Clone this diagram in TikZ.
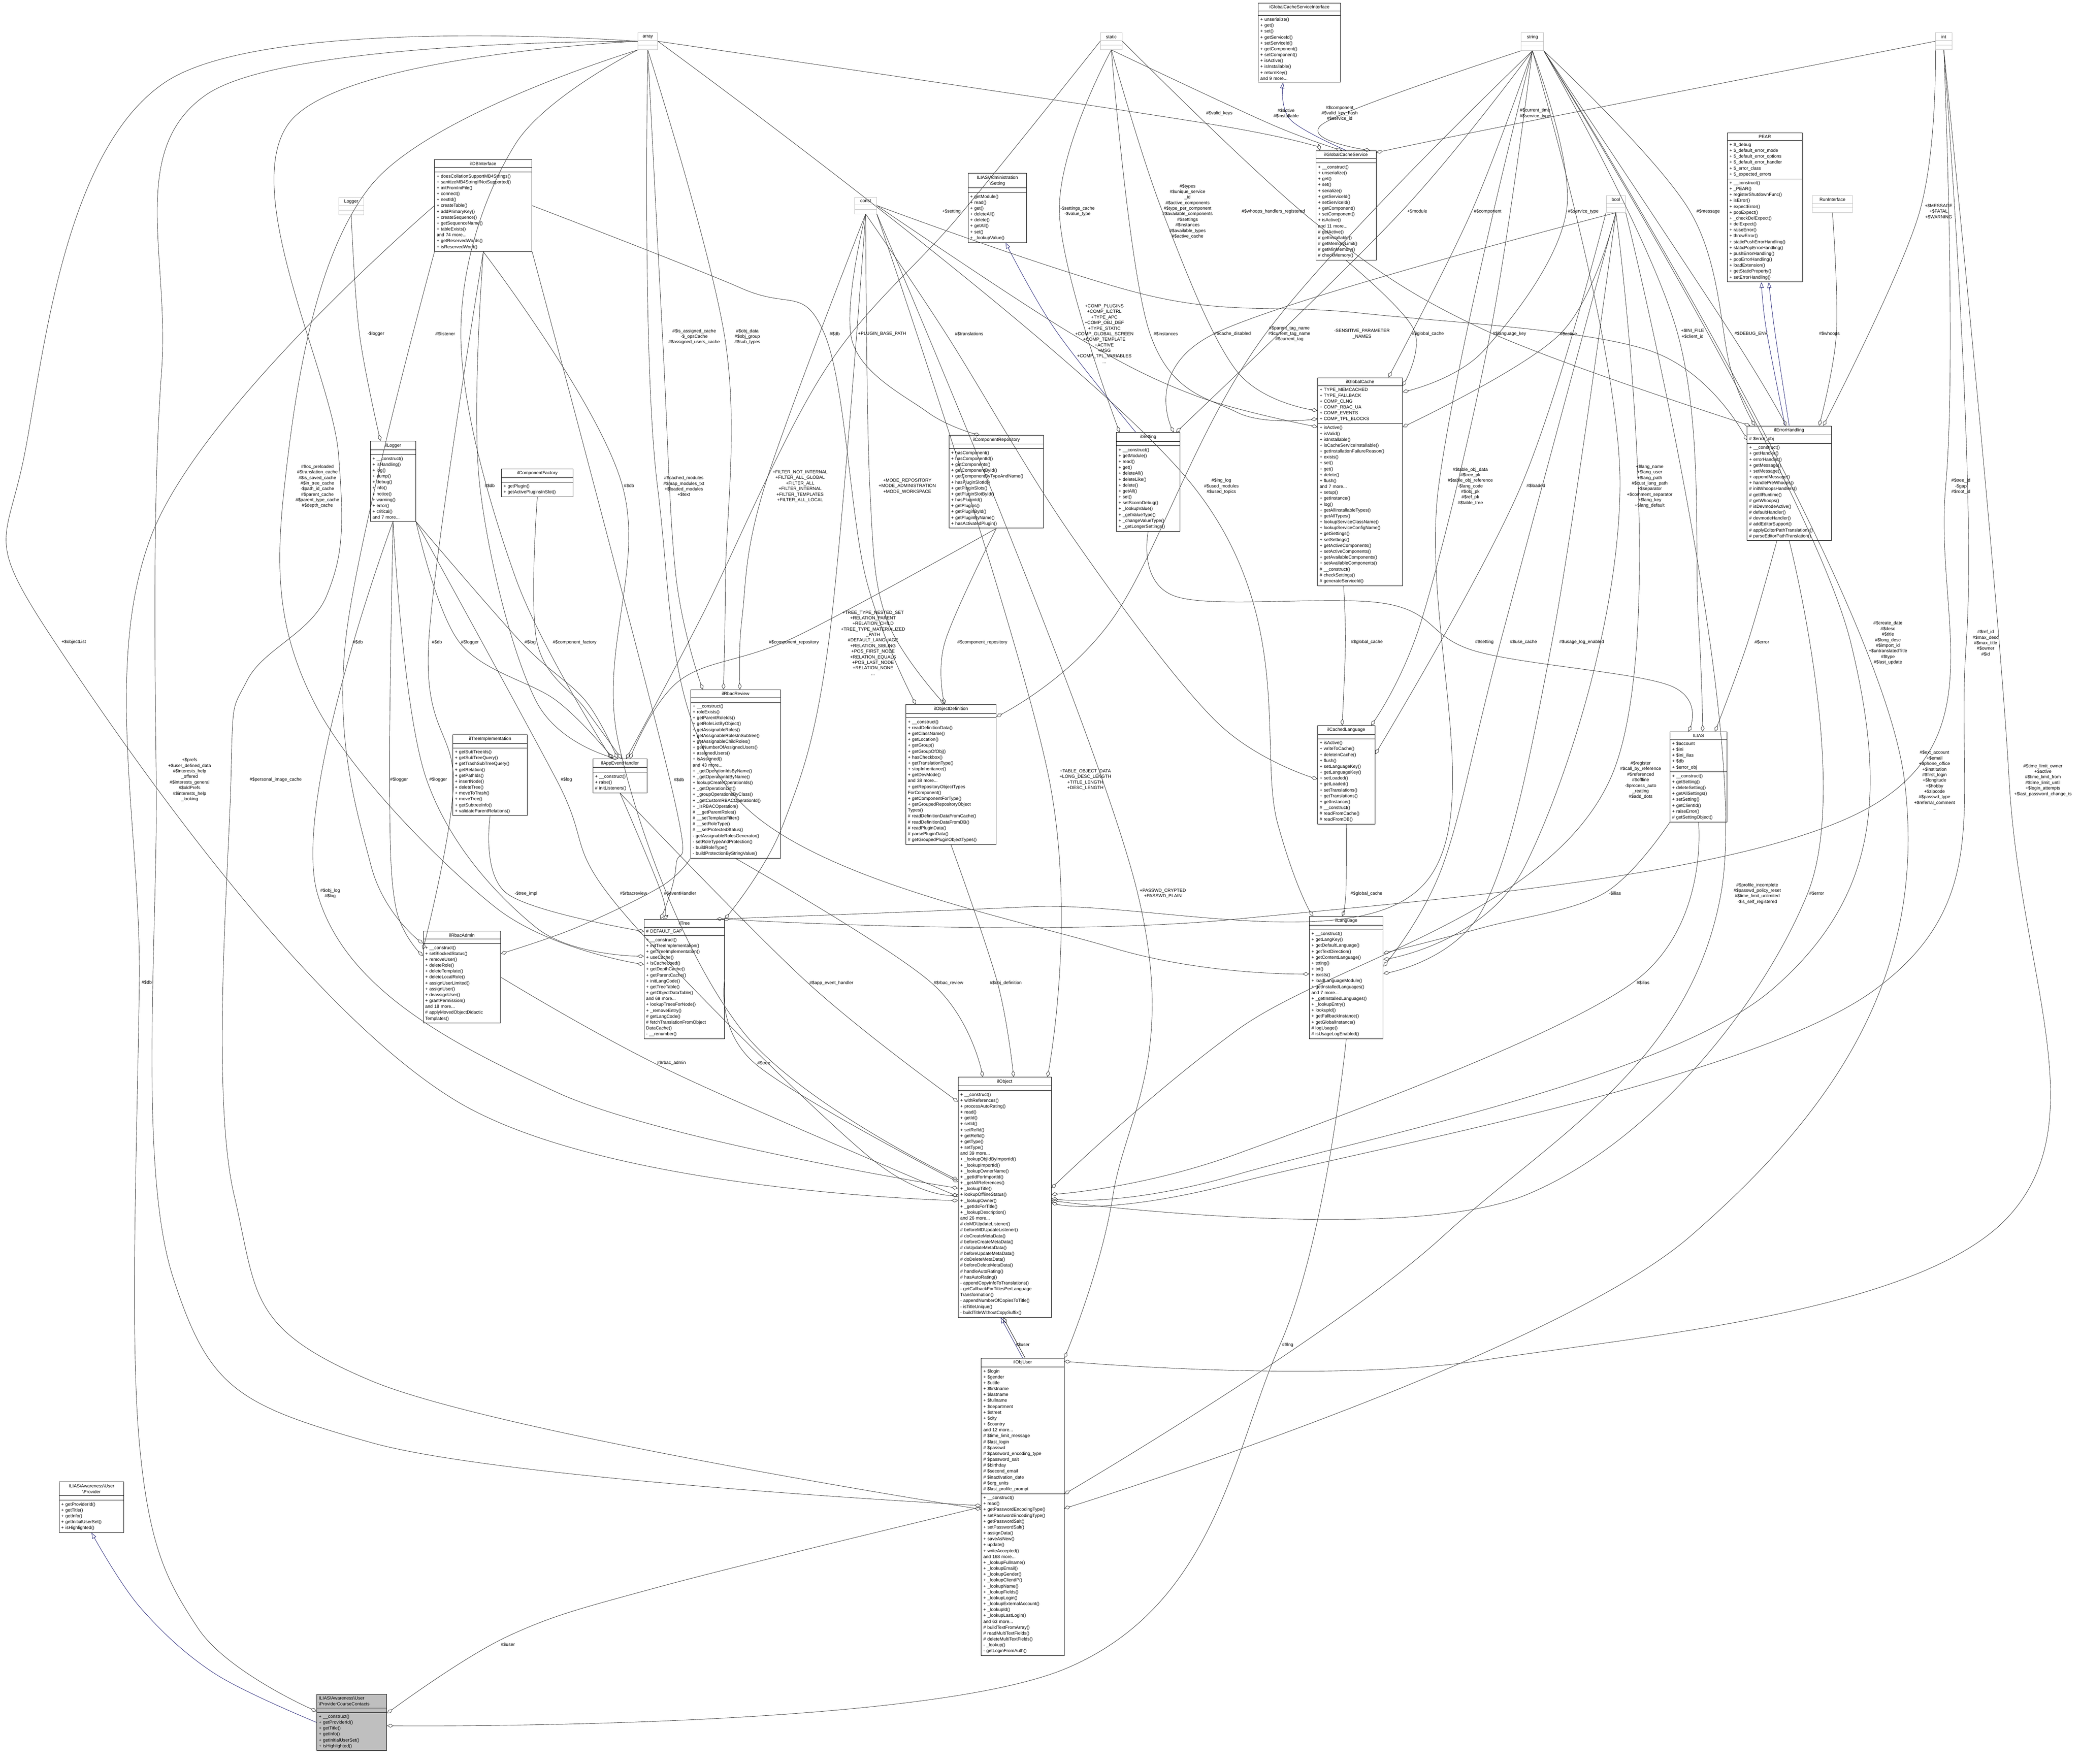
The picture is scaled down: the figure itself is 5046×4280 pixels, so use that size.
\documentclass[tikz,border=0pt]{standalone}
\usepackage{fontspec}
\setmainfont{Liberation Sans}
\usetikzlibrary{shapes.multipart,arrows.meta}

\definecolor{edgeblue}{HTML}{191970}
\definecolor{boxgray}{HTML}{BFBFBF}
\newcommand{\bs}{\textbackslash}
\newcommand{\umlclass}[7][]{\node[classbox,text width=#4,#1] (#2) at (#3) {\centering #5\par\nodepart{second}#6\nodepart{third}#7};}
\newcommand{\plainbox}[4]{\node[classbox,draw=boxgray,text width=#3] (#1) at (#2) {\centering #4\par\nodepart{second}\nodepart{third}};}
\newcommand{\assoc}[4][]{\draw[assocline,#1] plot[smooth,tension=.6] coordinates {(#2) #3 (#4)};}
\newcommand{\inherit}[4][]{\draw[inhline,#1] plot[smooth,tension=.6] coordinates {(#2) #3 (#4)};}

\tikzset{
  classbox/.style={rectangle split, rectangle split parts=3, draw, line width=1pt,
    anchor=north west, inner xsep=5pt, inner ysep=5pt, fill=white,
    rectangle split empty part height=11pt,
    font=\fontsize{11}{14.3}\selectfont},
  elabel/.style={align=center, font=\fontsize{11}{13.5}\selectfont, inner sep=1pt},
  assocline/.style={line width=.9pt, black!80, -{Diamond[open,length=16pt,width=9pt]}},
  inhline/.style={line width=.9pt, edgeblue, -{Triangle[open,length=14pt,width=10pt]}}
}

\begin{document}
\catcode`\#=12 \catcode`\$=12 \catcode`\_=12
\begin{tikzpicture}[x=1pt,y=-1pt]
\useasboundingbox (0,0) rectangle (5046,4280);
\fill[white] (0,0) rectangle (5046,4280);

% plain types
\plainbox{array}{1547,79}{38pt}{array}
\plainbox{static}{2669,79}{43pt}{static}
\plainbox{string}{3690,79}{44pt}{string}
\plainbox{int}{4695,79}{30pt}{int}
\plainbox{const}{2073,478}{43pt}{const}
\plainbox{bool}{3896,474}{37pt}{bool}
\plainbox{logger}{821,478}{51pt}{Logger}
\plainbox{runiface}{4396,474}{88pt}{RunInterface}

% classes
\umlclass{gcsiface}{3052,7}{190pt}{iGlobalCacheServiceInterface}{}{+ unserialize()\\+ get()\\+ set()\\+ getServiceId()\\+ setServiceId()\\+ getComponent()\\+ setComponent()\\+ isActive()\\+ isInstallable()\\+ returnKey()\\and 9 more...}
\umlclass{gcservice}{3192,365}{136pt}{ilGlobalCacheService}{}{+ __construct()\\+ unserialize()\\+ get()\\+ set()\\+ serialize()\\+ getServiceId()\\+ setServiceId()\\+ getComponent()\\+ setComponent()\\+ isActive()\\and 11 more...\\# getActive()\\# getInstallable()\\# getMemoryLimit()\\# getMinMemory()\\# checkMemory()}
\umlclass{pear}{4190,322}{172pt}{PEAR}{+ $_debug\\+ $_default_error_mode\\+ $_default_error_options\\+ $_default_error_handler\\+ $_error_class\\+ $_expected_errors}{+ __construct()\\+ _PEAR()\\+ registerShutdownFunc()\\+ isError()\\+ expectError()\\+ popExpect()\\+ _checkDelExpect()\\+ delExpect()\\+ raiseError()\\+ throwError()\\+ staticPushErrorHandling()\\+ staticPopErrorHandling()\\+ pushErrorHandling()\\+ popErrorHandling()\\+ loadExtension()\\+ getStaticProperty()\\+ setErrorHandling()}
\umlclass{dbiface}{1054,387}{226pt}{ilDBInterface}{}{+ doesCollationSupportMB4Strings()\\+ sanitizeMB4StringIfNotSupported()\\+ initFromIniFile()\\+ connect()\\+ nextId()\\+ createTable()\\+ addPrimaryKey()\\+ createSequence()\\+ getSequenceName()\\+ tableExists()\\and 74 more...\\+ getReservedWords()\\+ isReservedWord()}
\umlclass{adminsetting}{2348,420}{132pt}{ILIAS\bs Administration\\\bs Setting}{}{+ getModule()\\+ read()\\+ get()\\+ deleteAll()\\+ delete()\\+ getAll()\\+ set()\\+ _lookupValue()}
\umlclass{ilsetting}{2708,1049}{144pt}{ilSetting}{}{+ __construct()\\+ getModule()\\+ read()\\+ get()\\+ deleteAll()\\+ deleteLike()\\+ delete()\\+ getAll()\\+ set()\\+ setScormDebug()\\+ _lookupValue()\\+ _getValueType()\\+ _changeValueType()\\+ _getLongerSettings()}
\umlclass{gcache}{3196,916}{196pt}{ilGlobalCache}{+ TYPE_MEMCACHED\\+ TYPE_FALLBACK\\+ COMP_CLNG\\+ COMP_RBAC_UA\\+ COMP_EVENTS\\+ COMP_TPL_BLOCKS}{+ isActive()\\+ isValid()\\+ isInstallable()\\+ isCacheServiceInstallable()\\+ getInstallationFailureReason()\\+ exists()\\+ set()\\+ get()\\+ delete()\\+ flush()\\and 7 more...\\+ setup()\\+ getInstance()\\+ log()\\+ getAllInstallableTypes()\\+ getAllTypes()\\+ lookupServiceClassName()\\+ lookupServiceConfigName()\\+ getSettings()\\+ setSettings()\\+ getActiveComponents()\\+ setActiveComponents()\\+ getAvailableComponents()\\+ setAvailableComponents()\\# __construct()\\# checkSettings()\\# generateServiceId()}
\umlclass{ilerror}{4238,1033}{194pt}{ilErrorHandling}{# $error_obj}{+ __construct()\\+ getHandler()\\+ errorHandler()\\+ getMessage()\\+ setMessage()\\+ appendMessage()\\+ handlePreWhoops()\\# initWhoopsHandlers()\\# getIlRuntime()\\# getWhoops()\\# isDevmodeActive()\\# defaultHandler()\\# devmodeHandler()\\# addEditorSupport()\\# applyEditorPathTranslations()\\# parseEditorPathTranslation()}
\umlclass{illogger}{898,1070}{100pt}{ilLogger}{}{+ __construct()\\+ isHandling()\\+ log()\\+ dump()\\+ debug()\\+ info()\\+ notice()\\+ warning()\\+ error()\\+ critical()\\and 7 more...}
\umlclass{compfactory}{1216,1137}{164pt}{ilComponentFactory}{}{+ getPlugin()\\+ getActivePluginsInSlot()}
\umlclass{comprepo}{2302,1056}{219pt}{ilComponentRepository}{}{+ hasComponent()\\+ hasComponentId()\\+ getComponents()\\+ getComponentById()\\+ getComponentByTypeAndName()\\+ hasPluginSlotId()\\+ getPluginSlots()\\+ getPluginSlotById()\\+ hasPluginId()\\+ getPlugins()\\+ getPluginById()\\+ getPluginByName()\\+ hasActivatedPlugin()}
\umlclass{rbacreview}{1675,1673}{208pt}{ilRbacReview}{}{+ __construct()\\+ roleExists()\\+ getParentRoleIds()\\+ getRoleListByObject()\\+ getAssignableRoles()\\+ getAssignableRolesInSubtree()\\+ getAssignableChildRoles()\\+ getNumberOfAssignedUsers()\\+ assignedUsers()\\+ isAssigned()\\and 43 more...\\+ _getOperationIdsByName()\\+ _getOperationIdByName()\\+ lookupCreateOperationIds()\\+ _getOperationList()\\+ _groupOperationsByClass()\\+ _getCustomRBACOperationId()\\+ _isRBACOperation()\\# __getParentRoles()\\# __setTemplateFilter()\\# __setRoleType()\\# __setProtectedStatus()\\- getAssignableRolesGenerator()\\- setRoleTypeAndProtection()\\- buildRoleType()\\- buildProtectionByStringValue()}
\umlclass{objdef}{2197,1709}{209pt}{ilObjectDefinition}{}{+ __construct()\\+ readDefinitionData()\\+ getClassName()\\+ getLocation()\\+ getGroup()\\+ getGroupOfObj()\\+ hasCheckbox()\\+ getTranslationType()\\+ stopInheritance()\\+ getDevMode()\\and 38 more...\\+ getRepositoryObjectTypes\\ForComponent()\\+ getComponentForType()\\+ getGroupedRepositoryObject\\Types()\\# readDefinitionDataFromCache()\\# readDefinitionDataFromDB()\\# readPluginData()\\# parsePluginData()\\# getGroupedPluginObjectTypes()}
\umlclass{treeimpl}{1098,1782}{171pt}{ilTreeImplementation}{}{+ getSubTreeIds()\\+ getSubTreeQuery()\\+ getTrashSubTreeQuery()\\+ getRelation()\\+ getPathIds()\\+ insertNode()\\+ deleteTree()\\+ moveToTrash()\\+ moveTree()\\+ getSubtreeInfo()\\+ validateParentRelations()}
\umlclass{appevent}{1438,1841}{121pt}{ilAppEventHandler}{}{+ __construct()\\+ raise()\\# initListeners()}
\umlclass{iltree}{1562,2230}{185pt}{ilTree}{# DEFAULT_GAP}{+ __construct()\\+ initTreeImplementation()\\+ getTreeImplementation()\\+ useCache()\\+ isCacheUsed()\\+ getDepthCache()\\+ getParentCache()\\+ initLangCode()\\+ getTreeTable()\\+ getObjectDataTable()\\and 69 more...\\+ lookupTreesForNode()\\+ _removeEntry()\\# getLangCode()\\# fetchTranslationFromObject\\DataCache()\\- __renumber()}
\umlclass{rbacadmin}{1026,2259}{178pt}{ilRbacAdmin}{}{+ __construct()\\+ setBlockedStatus()\\+ removeUser()\\+ deleteRole()\\+ deleteTemplate()\\+ deleteLocalRole()\\+ assignUserLimited()\\+ assignUser()\\+ deassignUser()\\+ grantPermission()\\and 18 more...\\# applyMovedObjectDidactic\\Templates()}
\umlclass{cachedlang}{3196,1760}{129pt}{ilCachedLanguage}{}{+ isActive()\\+ writeToCache()\\+ deleteInCache()\\+ flush()\\+ setLanguageKey()\\+ getLanguageKey()\\+ setLoaded()\\+ getLoaded()\\+ setTranslations()\\+ getTranslations()\\+ getInstance()\\# __construct()\\# readFromCache()\\# readFromDB()}
\umlclass{illanguage}{3176,2223}{169pt}{ilLanguage}{}{+ __construct()\\+ getLangKey()\\+ getDefaultLanguage()\\+ getTextDirection()\\+ getContentLanguage()\\+ txtlng()\\+ txt()\\+ exists()\\+ loadLanguageModule()\\+ getInstalledLanguages()\\and 7 more...\\+ _getInstalledLanguages()\\+ _lookupEntry()\\+ lookupId()\\+ getFallbackInstance()\\+ getGlobalInstance()\\# logUsage()\\# isUsageLogEnabled()}
\umlclass{ilias}{4051,1775}{128pt}{ILIAS}{+ $account\\+ $ini\\+ $ini_ilias\\+ $db\\+ $error_obj}{+ __construct()\\+ getSetting()\\+ deleteSetting()\\+ getAllSettings()\\+ setSetting()\\+ getClientId()\\+ raiseError()\\# getSettingObject()}
\umlclass{ilobject}{2324,2613}{216pt}{ilObject}{}{+ __construct()\\+ withReferences()\\+ processAutoRating()\\+ read()\\+ getId()\\+ setId()\\+ setRefId()\\+ getRefId()\\+ getType()\\+ setType()\\and 39 more...\\+ _lookupObjIdByImportId()\\+ _lookupImportId()\\+ _lookupOwnerName()\\+ _getIdForImportId()\\+ _getAllReferences()\\+ _lookupTitle()\\+ lookupOfflineStatus()\\+ _lookupOwner()\\+ _getIdsForTitle()\\+ _lookupDescription()\\and 26 more...\\# doMDUpdateListener()\\# beforeMDUpdateListener()\\# doCreateMetaData()\\# beforeCreateMetaData()\\# doUpdateMetaData()\\# beforeUpdateMetaData()\\# doDeleteMetaData()\\# beforeDeleteMetaData()\\# handleAutoRating()\\# hasAutoRating()\\- appendCopyInfoToTranslations()\\- getCallbackForTitlesPerLanguage\\Transformation()\\- appendNumberOfCopiesToTitle()\\- isTitleUnique()\\- buildTitleWithoutCopySuffix()}
\umlclass{objuser}{2380,3295}{191pt}{ilObjUser}{+ $login\\+ $gender\\+ $utitle\\+ $firstname\\+ $lastname\\+ $fullname\\+ $department\\+ $street\\+ $city\\+ $country\\and 12 more...\\# $time_limit_message\\# $last_login\\# $passwd\\# $password_encoding_type\\# $password_salt\\# $birthday\\# $second_email\\# $inactivation_date\\# $org_units\\# $last_profile_prompt}{+ __construct()\\+ read()\\+ getPasswordEncodingType()\\+ setPasswordEncodingType()\\+ getPasswordSalt()\\+ setPasswordSalt()\\+ assignData()\\+ saveAsNew()\\+ update()\\+ writeAccepted()\\and 168 more...\\+ _lookupFullname()\\+ _lookupEmail()\\+ _lookupGender()\\+ _lookupClientIP()\\+ _lookupName()\\+ _lookupFields()\\+ _lookupLogin()\\+ _lookupExternalAccount()\\+ _lookupId()\\+ _lookupLastLogin()\\and 63 more...\\# buildTextFromArray()\\# readMultiTextFields()\\# deleteMultiTextFields()\\- _lookup()\\- getLoginFromAuth()}
\umlclass{provider}{143,3595}{147pt}{ILIAS\bs Awareness\bs User\\\bs Provider}{}{+ getProviderId()\\+ getTitle()\\+ getInfo()\\+ getInitialUserSet()\\+ isHighlighted()}
\umlclass[fill=boxgray]{pcc}{768,4110}{160pt}{\raggedright ILIAS\bs Awareness\bs User\\\bs ProviderCourseContacts}{}{+ __construct()\\+ getProviderId()\\+ getTitle()\\+ getInfo()\\+ getInitialUserSet()\\+ isHighlighted()}

% inheritance
\inherit{pcc.west}{(520,4060) (340,3900)}{provider.south}
\inherit{objuser.north}{}{[xshift=-10]ilobject.south}
\inherit{gcservice.north}{(3130,290)}{[xshift=-40]gcsiface.south}
\inherit{[xshift=-10]ilerror.north}{(4285,800)}{[xshift=-100]pear.south east}
\inherit{ilerror.north}{(4305,800)}{[xshift=-82]pear.south east}
\inherit{[xshift=-30]ilsetting.north}{(2560,800)}{[xshift=20]adminsetting.south}

% associations, left part
\assoc{logger.south}{(872,810)}{[xshift=25]illogger.north west}
\assoc{array.south west}{(1250,350) (1118,810) (1250,1400)}{[xshift=-20]appevent.north}
\assoc{array.south}{(1608,830) (1640,1400)}{[xshift=30]rbacreview.north west}
\assoc{array.south}{(1760,830) (1760,1400)}{[xshift=80]rbacreview.north west}
\assoc{dbiface.east}{(1800,700) (2000,810) (2100,1400)}{[xshift=25]objdef.north west}
\assoc{const.south}{(2068,830) (2250,1000)}{[xshift=75]comprepo.north west}
\assoc{const.south}{(2295,810) (2600,1300) (2950,1750)}{[yshift=-130]cachedlang.north west}
\assoc{static.west}{(2330,520) (2000,900) (1700,1500)}{[xshift=15]appevent.north}
\assoc{array.west}{(400,200) (60,1100) (133,1558) (1100,2667)}{[yshift=-300]ilobject.north west}
\assoc{array.west}{(500,230) (392,900) (379,1890) (420,3100) (900,3500)}{[yshift=-358]objuser.north west}
\assoc{array.west}{(700,300) (821,1100) (793,1444) (600,1650) (560,1900) (568,2900) (900,3350)}{[yshift=-367]objuser.north west}
\assoc{array.south west}{(900,450) (690,1180) (760,1700) (1200,2200)}{[yshift=-110]iltree.north west}
\assoc{dbiface.west}{(367,1300) (338,2384) (338,3500) (480,3950)}{[yshift=-42]pcc.north west}
\assoc{dbiface.south west}{(838,1558) (900,2100)}{[yshift=-30]rbacadmin.north west}
\assoc{dbiface.south}{(1164,1179) (1300,1700)}{[xshift=-5]appevent.north}
\assoc{dbiface.south}{(1510,1179) (1500,1800) (1800,2500)}{[yshift=-250]ilobject.north west}
\assoc{dbiface.south}{(1040,1559) (1100,1900)}{[yshift=-45]rbacadmin.north west}
\assoc{dbiface.south east}{(1625,1892) (1640,2100)}{[xshift=40]iltree.north west}
\assoc{array.south}{(1595,1180) (1800,1950) (2700,2300)}{[yshift=-140]illanguage.north west}
\assoc{const.south}{(1855,1180) (1800,1500)}{[xshift=120]rbacreview.north west}
\assoc{const.south}{(2110,1180) (2150,1500)}{[xshift=95]objdef.north west}
\assoc{illogger.south}{(945,1892) (960,2200)}{[yshift=-60]rbacadmin.north west}
\assoc{illogger.south}{(1035,1892) (1300,2250)}{[yshift=-90]iltree.north west}
\assoc{illogger.south east}{(1115,1559) (1350,1700)}{[xshift=50]appevent.north west}
\assoc{illogger.south east}{(1265,1559) (1420,1700)}{[xshift=60]appevent.north west}
\assoc{compfactory.south}{(1303,1559) (1420,1720)}{[xshift=70]appevent.north west}
\assoc{illogger.south}{(770,2168) (1350,2650)}{[yshift=-270]ilobject.north west}
\assoc{illogger.south east}{(1350,1892) (1500,2200) (2100,2800)}{[yshift=-285]ilobject.north west}
\assoc{comprepo.south}{(1930,1545) (1650,1650)}{[xshift=90]appevent.north west}
\assoc{comprepo.south}{(2292,1559)}{[xshift=95]objdef.north west}
\assoc{const.south}{(2010,1560) (1900,2000)}{iltree.north east}
\assoc{const.south east}{(2545,1890)}{[xshift=-10]ilobject.north east}
\assoc{const.south east}{(2760,2168) (2700,2900)}{objuser.north east}

% associations into ilObject and ilTree from the left
\assoc{rbacadmin.east}{(1629,2600)}{[yshift=-290]ilobject.north west}
\assoc{iltree.east}{(1830,2579)}{[yshift=-255]ilobject.north west}
\assoc{appevent.south}{(1960,2385)}{[yshift=-60]ilobject.north west}
\assoc{rbacreview.south}{(2260,2385)}{[xshift=60]ilobject.north west}
\assoc{objdef.south}{(2420,2385)}{[xshift=135]ilobject.north west}
\assoc{treeimpl.south}{(1230,2168)}{[yshift=-30]iltree.north west}
\assoc{rbacreview.south west}{(1605,2150) (1400,2250)}{[yshift=-55]rbacadmin.north east}
\assoc{appevent.south}{(1605,2168)}{[xshift=47]iltree.north west}
\assoc{objuser.west}{(1600,3850) (1232,3970)}{[yshift=-47]pcc.north east}
\assoc{illanguage.south}{(3105,3263) (2589,4047)}{[yshift=-77]pcc.north east}
\assoc[black]{[xshift=6]objuser.north}{}{[xshift=-4]ilobject.south}

% associations, right part
\assoc{ilsetting.south}{(2855,1448) (3364,1465) (3580,1580) (4050,1663)}{[xshift=-25]ilias.north}
\assoc{[xshift=-40]gcache.south}{(3264,1558)}{[xshift=-10]cachedlang.north}
\assoc{cachedlang.south}{(3265,2168)}{[xshift=-10]illanguage.north}
\assoc{bool.south}{(3640,1558) (3500,2100)}{[yshift=-122]illanguage.north east}
\assoc{bool.south}{(3765,1558) (3600,2200)}{[yshift=-139]illanguage.north east}
\assoc{bool.south west}{(3690,1179)}{[yshift=-70]cachedlang.north east}
\assoc{string.south}{(3490,1180) (3450,2150) (2500,2200)}{[xshift=-20]iltree.north east}
\assoc{string.south}{(3930,1180) (3700,2100)}{[yshift=-105]illanguage.north east}
\assoc{bool.south}{(3905,1893) (3000,2500)}{[yshift=-270]ilobject.north east}
\assoc{ilias.south west}{(3890,2168) (3600,2250)}{[yshift=-90]illanguage.north east}
\assoc{ilias.south}{(3960,2385) (3000,2800)}{[yshift=-285]ilobject.north east}
\assoc{bool.south east}{(4175,2168) (3500,3000)}{[yshift=-330]objuser.north east}
\assoc{ilerror.south}{(4385,2168) (3700,2900)}{[yshift=-300]ilobject.north east}
\assoc{[xshift=-30]ilerror.south}{(4240,1558)}{[xshift=40]ilias.north}
\assoc{string.south east}{(4490,1560) (4300,2400) (3000,2850)}{[yshift=-295]ilobject.north east}
\assoc{int.south}{(4770,1560) (4550,2400) (3000,2870)}{[yshift=-305]ilobject.north east}
\assoc{string.south east}{(4620,1893) (4100,3000)}{[yshift=-365]objuser.north east}
\assoc{int.south}{(4874,1893) (4874,2950) (3600,3300)}{[yshift=-8]objuser.north east}
\assoc{int.south}{(4720,1180) (4550,1950) (3000,2230)}{[xshift=-5]iltree.north east}
\assoc{int.south west}{(4655,520)}{[xshift=-20]ilerror.north east}
\assoc{runiface.south}{(4455,810)}{[xshift=-30]ilerror.north east}
\assoc{string.south east}{(4200,810)}{[xshift=95]ilerror.north west}
\assoc{string.south east}{(4070,810) (4120,1500)}{[xshift=10]ilias.north}
\assoc{string.south east}{(4100,513) (4200,900)}{[xshift=20]ilerror.north west}
\assoc{bool.south}{(3785,810)}{[yshift=-120]gcache.north east}
\assoc{string.south}{(3615,810) (3450,1500)}{[xshift=-10]cachedlang.north east}
\assoc{gcservice.south}{(3430,800)}{[yshift=-20]gcache.north east}
\assoc{const.east}{(2800,720) (3304,760) (4000,850)}{[yshift=-35]ilerror.north west}
\assoc{string.south}{(3070,810) (2700,1500)}{[yshift=-30]objdef.north east}
\assoc{bool.south}{(2945,810)}{[xshift=-15]ilsetting.north east}
\assoc{static.south}{(2790,810) (3000,1000)}{[yshift=-100]gcache.north west}
\assoc{const.east}{(2600,810) (2900,960)}{[yshift=-120]gcache.north west}
\assoc{static.south}{(2570,513)}{[xshift=8]ilsetting.north west}
\assoc{static.south}{(2820,513) (3000,900)}{[yshift=-80]gcache.north west}
\assoc{static.east}{(3190,540) (3600,800)}{[xshift=8]ilerror.north west}
\assoc{string.south}{(3400,513)}{[xshift=-10]ilsetting.north east}
\assoc{string.south}{(3570,513)}{[xshift=-35]gcache.north east}
\assoc{string.south}{(3800,513) (3600,850)}{[yshift=-35]gcache.north east}
\assoc{array.east}{(2930,300)}{[xshift=10]gcservice.north west}
\assoc{static.south}{(3080,300)}{[xshift=-10]gcservice.north}
\assoc{string.south west}{(3210,300)}{[xshift=-15]gcservice.north east}
\assoc{int.west}{(3680,300)}{[yshift=-5]gcservice.north east}
\assoc{array.east}{(2895,1180) (3100,2000)}{[xshift=10]illanguage.north west}

% labels
\node[elabel] (lA1) at (912,810) {-$logger};
\node[elabel] (lA2) at (1080,810) {#$listener};
\node[elabel] (lA3) at (1684,817) {#$is_assigned_cache\\-$_opsCache\\#$assigned_users_cache};
\node[elabel] (lA4) at (1813,817) {#$obj_data\\#$obj_group\\#$sub_types};
\node[elabel] (lA5) at (2025,810) {#$db};
\node[elabel] (lA6) at (2140,810) {+PLUGIN_BASE_PATH};
\node[elabel] (lA7) at (2351,810) {#$translations};
\node[elabel] (lA8) at (2308,513) {+$setting};
\node[elabel] (lB1) at (770,1180) {#$oc_preloaded\\#$translation_cache\\#$is_saved_cache\\#$in_tree_cache\\-$path_id_cache\\#$parent_cache\\#$parent_type_cache\\#$depth_cache};
\node[elabel] (lB2) at (1188,1179) {#$db};
\node[elabel] (lB3) at (1526,1179) {#$db};
\node[elabel] (lB4) at (1659,1180) {#$cached_modules\\#$map_modules_txt\\+$loaded_modules\\+$text};
\node[elabel] (lB5) at (1941,1180) {+FILTER_NOT_INTERNAL\\+FILTER_ALL_GLOBAL\\+FILTER_ALL\\+FILTER_INTERNAL\\+FILTER_TEMPLATES\\+FILTER_ALL_LOCAL};
\node[elabel] (lB6) at (2201,1180) {+MODE_REPOSITORY\\+MODE_ADMINISTRATION\\+MODE_WORKSPACE};
\node[elabel] (lC1) at (2958,275) {#$valid_keys};
\node[elabel] (lC2) at (3120,275) {#$active\\#$installable};
\node[elabel] (lC3) at (3250,275) {#$component\\#$valid_key_hash\\#$service_id};
\node[elabel] (lC4) at (3724,275) {#$current_time\\#$service_type};
\node[elabel] (lC5) at (2614,513) {-$settings_cache\\-$value_type};
\node[elabel] (lC6) at (2881,513) {#$types\\#$unique_service\\_id\\#$active_components\\#$type_per_component\\#$available_components\\#$settings\\#$instances\\#$available_types\\#$active_cache};
\node[elabel] (lC7) at (3089,513) {#$whoops_handlers_registered};
\node[elabel] (lC8) at (3438,513) {+$module};
\node[elabel] (lC9) at (3609,513) {#$component};
\node[elabel] (lC10) at (3841,513) {#$service_type};
\node[elabel] (lC11) at (4144,513) {#$message};
\node[elabel] (lC12) at (4703,513) {+$MESSAGE\\+$FATAL\\+$WARNING};
\node[elabel] (lD1) at (2679,810) {+COMP_PLUGINS\\+COMP_ILCTRL\\+TYPE_APC\\+COMP_OBJ_DEF\\+TYPE_STATIC\\+COMP_GLOBAL_SCREEN\\+COMP_TEMPLATE\\+ACTIVE\\+MSG\\+COMP_TPL_VARIABLES\\...};
\node[elabel] (lD2) at (2828,810) {#$instances};
\node[elabel] (lD3) at (2990,810) {#$cache_disabled};
\node[elabel] (lD4) at (3128,810) {#$parent_tag_name\\#$current_tag_name\\#$current_tag};
\node[elabel] (lD5) at (3304,810) {-SENSITIVE_PARAMETER\\_NAMES};
\node[elabel] (lD6) at (3464,810) {#$global_cache};
\node[elabel] (lD7) at (3662,810) {#$language_key};
\node[elabel] (lD8) at (3805,810) {#$active};
\node[elabel] (lD9) at (4106,810) {+$INI_FILE\\+$client_id};
\node[elabel] (lD10) at (4248,810) {#$DEBUG_ENV};
\node[elabel] (lD11) at (4438,810) {#$whoops};
\node[elabel] (lE1) at (2963,1180) {#$lng_log\\#$used_modules\\#$used_topics};
\node[elabel] (lE2) at (3567,1180) {#$table_obj_data\\#$tree_pk\\#$table_obj_reference\\-$lang_code\\#$obj_pk\\#$ref_pk\\#$table_tree};
\node[elabel] (lE3) at (3726,1179) {#$loaded};
\node[elabel] (lE4) at (4002,1180) {+$lang_name\\+$lang_user\\+$lang_path\\#$cust_lang_path\\+$separator\\+$comment_separator\\+$lang_key\\+$lang_default};
\node[elabel] (lE5) at (4757,1180) {#$tree_id\\-$gap\\#$root_id};
\node[elabel] (lF1) at (179,1558) {+$objectList};
\node[elabel] (lF2) at (868,1558) {#$db};
\node[elabel] (lF3) at (1060,1558) {#$db};
\node[elabel] (lF4) at (1140,1559) {#$logger};
\node[elabel] (lF5) at (1286,1559) {#$log};
\node[elabel] (lF6) at (1394,1559) {#$component_factory};
\node[elabel] (lF7) at (1926,1559) {#$component_repository};
\node[elabel] (lF8) at (2118,1560) {+TREE_TYPE_NESTED_SET\\+RELATION_PARENT\\+RELATION_CHILD\\+TREE_TYPE_MATERIALIZED\\_PATH\\#DEFAULT_LANGUAGE\\+RELATION_SIBLING\\+POS_FIRST_NODE\\+RELATION_EQUALS\\+POS_LAST_NODE\\+RELATION_NONE\\...};
\node[elabel] (lF9) at (2383,1559) {#$component_repository};
\node[elabel] (lF10) at (3316,1558) {#$global_cache};
\node[elabel] (lF11) at (3601,1558) {#$setting};
\node[elabel] (lF12) at (3696,1558) {#$use_cache};
\node[elabel] (lF13) at (3837,1558) {#$usage_log_enabled};
\node[elabel] (lF14) at (4274,1558) {#$error};
\node[elabel] (lF15) at (4580,1560) {#$create_date\\#$desc\\#$title\\#$long_desc\\#$import_id\\+$untranslatedTitle\\#$type\\#$last_update};
\node[elabel] (lF16) at (4817,1560) {#$ref_id\\#$max_desc\\#$max_title\\#$owner\\#$id};
\node[elabel] (lG1) at (460,1892) {+$prefs\\+$user_defined_data\\#$interests_help\\_offered\\#$interests_general\\#$oldPrefs\\#$interests_help\\_looking};
\node[elabel] (lG2) at (669,1892) {#$personal_image_cache};
\node[elabel] (lG3) at (968,1892) {#$logger};
\node[elabel] (lG4) at (1063,1892) {#$logger};
\node[elabel] (lG5) at (1374,1892) {#$log};
\node[elabel] (lG6) at (1647,1892) {#$db};
\node[elabel] (lG7) at (2633,1892) {+TABLE_OBJECT_DATA\\+LONG_DESC_LENGTH\\+TITLE_LENGTH\\+DESC_LENGTH};
\node[elabel] (lG8) at (3980,1893) {#$register\\#$call_by_reference\\#$referenced\\#$offline\\-$process_auto\\_reating\\#$add_dots};
\node[elabel] (lG9) at (4693,1893) {#$ext_account\\+$email\\+$phone_office\\+$institution\\#$first_login\\+$longitude\\+$hobby\\+$zipcode\\#$passwd_type\\+$referral_comment\\...};
\node[elabel] (lG10) at (4956,1893) {#$time_limit_owner\\+$active\\#$time_limit_from\\#$time_limit_until\\+$login_attempts\\+$last_password_change_ts};
\node[elabel] (lH1) at (801,2168) {#$obj_log\\#$log};
\node[elabel] (lH2) at (1276,2168) {-$tree_impl};
\node[elabel] (lH3) at (1537,2168) {#$rbacreview};
\node[elabel] (lH4) at (1650,2168) {#$eventHandler};
\node[elabel] (lH5) at (2821,2168) {+PASSWD_CRYPTED\\+PASSWD_PLAIN};
\node[elabel] (lH6) at (3315,2168) {#$global_cache};
\node[elabel] (lH7) at (3918,2168) {-$ilias};
\node[elabel] (lH8) at (4263,2168) {#$profile_incomplete\\#$passwd_policy_reset\\#$time_limit_unlimited\\-$is_self_registered};
\node[elabel] (lH9) at (4407,2168) {#$error};
\node[elabel] (lI1) at (356,2384) {#$db};
\node[elabel] (lI2) at (2017,2385) {#$app_event_handler};
\node[elabel] (lI3) at (2301,2385) {#$rbac_review};
\node[elabel] (lI4) at (2440,2385) {#$obj_definition};
\node[elabel] (lI5) at (3986,2385) {#$ilias};
\node[elabel] (lI6) at (1629,2579) {#$rbac_admin};
\node[elabel] (lI7) at (1853,2579) {#$tree};
\node[elabel] (lJ1) at (2481,3263) {#$user};
\node[elabel] (lJ2) at (3124,3263) {#$lng};
\node[elabel] (lJ3) at (1232,3990) {#$user};
\end{tikzpicture}
\end{document}
